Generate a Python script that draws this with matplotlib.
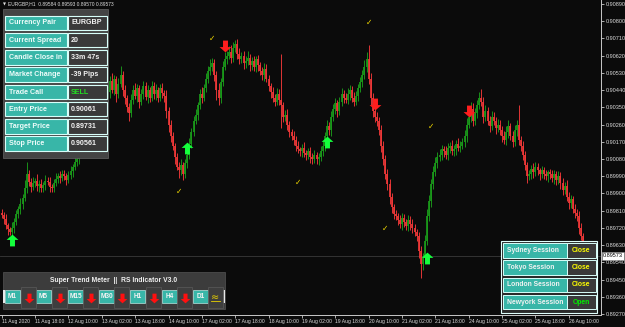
import matplotlib
matplotlib.use("Agg")
import matplotlib.pyplot as plt
import numpy as np
from matplotlib.patches import Rectangle
from matplotlib.path import Path
from matplotlib.transforms import blended_transform_factory

# ---------------- data (price = 0.89 + value / 1e5) ----------------
BASE = 0.89
first_open = 800
closes = [
    787, 765, 735, 712, 700, 720, 750, 790, 820, 845,
    875, 930, 1000, 960, 935, 955, 965, 940, 950, 930,
    945, 965, 960, 935, 930, 955, 975, 990, 980, 1000,
    990, 970, 995, 1015, 1040, 1065, 1080,
    1110, 1150, 1190, 1230, 1260, 1290, 1320, 1300, 1340, 1370, 1390, 1410, 1400, 1420,
    1430, 1490, 1440, 1500, 1420, 1470, 1520, 1440, 1400, 1350,
    1320, 1390, 1440, 1410, 1450, 1380, 1420, 1460, 1405, 1440,
    1400, 1460, 1420, 1440, 1400, 1450, 1425, 1410, 1330, 1260,
    1200, 1150, 1090, 1040, 1020, 1050, 1000, 1060, 1100, 1160,
    1220, 1280, 1310, 1360, 1420, 1400, 1450, 1500, 1540, 1560,
    1580, 1520, 1440, 1400, 1480, 1560, 1600, 1620, 1640, 1610,
    1660, 1680, 1630, 1600, 1620, 1580, 1590, 1610, 1570, 1590,
    1560, 1600, 1570, 1540, 1520, 1550, 1500, 1460, 1430, 1400,
    1380, 1420, 1390, 1360, 1300, 1310, 1260, 1220, 1200, 1180,
    1150, 1130, 1120, 1140, 1110, 1100, 1120, 1090, 1080,
    1100, 1080, 1090, 1120, 1150, 1200, 1250, 1230, 1300, 1340,
    1370, 1330, 1380, 1420, 1400, 1390, 1420, 1440, 1400, 1380,
    1410, 1450, 1480, 1520, 1560, 1600, 1500, 1400, 1330, 1300,
    1280, 1230, 1150, 1080, 1000, 950, 880, 830, 790, 780,
    760, 740, 770, 750, 730, 760, 740, 720, 700, 680,
    600, 530, 560, 650, 780, 860, 950, 1010, 1060, 1090,
    1100, 1130, 1120, 1100, 1140, 1150, 1120, 1130, 1160, 1140,
    1150, 1170, 1200, 1260, 1300, 1340, 1280, 1320, 1360, 1400,
    1380, 1300, 1330, 1280, 1250, 1300, 1280, 1240, 1260, 1230,
    1200, 1180, 1220, 1250, 1200, 1170, 1230, 1260, 1180, 1150,
    1100, 1050, 990, 1000, 1030, 1010, 1040, 1020, 1000, 1020,
    1000, 990, 1010, 1000, 980, 1000, 970, 990, 955,
    920, 940, 880, 850, 870, 820, 800, 780, 720, 680, 573,
]
wick_hi = [
    20, 15, 25, 10, 15, 30, 20, 25, 15, 30,
    20, 40, 65, 25, 20, 30, 15, 35, 20, 25,
    15, 30, 20, 25, 15, 20, 30, 15, 25, 20,
    25, 15, 20, 30, 15, 25, 20,
    20, 15, 25, 20, 30, 15, 20, 25, 15, 20, 30, 15, 25, 20,
    30, 25, 40, 20, 15, 35, 45, 20, 25, 15,
    20, 30, 25, 35, 20, 15, 25, 30, 20, 25,
    15, 25, 20, 30, 15, 20, 25, 15, 30, 20,
    25, 20, 15, 20, 25, 30, 15, 20, 25, 30,
    20, 25, 30, 20, 25, 35, 20, 30, 25, 40,
    30, 25, 20, 35, 25, 30, 40, 25, 30, 35,
    30, 20, 25, 30, 20, 25, 30, 35, 20, 25,
    30, 20, 25, 15, 20, 30, 25, 20, 15, 25,
    20, 30, 25, 240, 20, 25, 30, 20, 15, 25,
    20, 25, 15, 20, 30, 15, 20, 25, 20,
    25, 15, 20, 30, 25, 20, 35, 25, 30, 25,
    30, 20, 25, 30, 20, 25, 30, 25, 20, 30,
    25, 20, 30, 25, 35, 40, 76, 30, 25, 20,
    25, 20, 30, 25, 20, 30, 25, 20, 15, 25,
    20, 25, 30, 20, 15, 25, 20, 25, 20, 15,
    20, 25, 30, 35, 40, 30, 25, 35, 30, 25,
    30, 25, 20, 30, 25, 20, 30, 25, 20, 30,
    25, 20, 30, 35, 25, 40, 30, 25, 30, 30,
    45, 25, 30, 20, 25, 30, 25, 20, 30, 25,
    20, 25, 30, 35, 20, 25, 30, 25, 100, 20,
    25, 20, 15, 25, 20, 30, 25, 20, 15, 25,
    20, 25, 15, 20, 25, 20, 15, 25, 20,
    25, 20, 30, 25, 20, 15, 25, 20, 30, 25, 15,
]
wick_lo = [
    15, 25, 20, 30, 15, 20, 25, 15, 20, 25,
    25, 15, 30, 20, 25, 15, 20, 25, 30, 20,
    20, 25, 15, 30, 20, 25, 15, 20, 25, 15,
    20, 25, 15, 20, 30, 15, 20,
    25, 20, 15, 25, 20, 15, 25, 20, 30, 15, 20, 25, 15, 20,
    20, 30, 15, 25, 40, 20, 15, 30, 35, 25,
    40, 20, 25, 15, 30, 35, 20, 25, 15, 30,
    20, 15, 25, 30, 20, 15, 25, 30, 35, 40,
    30, 25, 35, 20, 40, 25, 30, 20, 25, 20,
    25, 20, 15, 25, 20, 30, 15, 20, 25, 20,
    20, 30, 50, 40, 25, 20, 15, 25, 20, 30,
    25, 20, 30, 25, 20, 30, 25, 20, 30, 25,
    20, 25, 30, 20, 25, 30, 20, 25, 30, 20,
    25, 20, 30, 120, 25, 20, 30, 25, 20, 25,
    30, 20, 25, 30, 20, 25, 20, 30, 25,
    20, 25, 30, 20, 25, 30, 20, 25, 30, 20,
    25, 30, 20, 25, 30, 20, 25, 30, 20, 25,
    20, 25, 20, 25, 20, 25, 30, 40, 30, 25,
    30, 25, 35, 30, 25, 30, 35, 30, 25, 20,
    25, 20, 30, 25, 20, 25, 30, 25, 20, 30,
    40, 70, 30, 25, 20, 25, 30, 25, 20, 25,
    20, 25, 30, 20, 25, 30, 20, 25, 30, 20,
    25, 20, 25, 30, 20, 25, 30, 20, 25, 20,
    25, 30, 20, 25, 30, 20, 25, 30, 20, 25,
    30, 20, 25, 30, 20, 25, 20, 30, 25, 30,
    25, 30, 35, 20, 25, 30, 20, 25, 30, 20,
    25, 20, 30, 25, 20, 30, 25, 20, 30,
    30, 25, 20, 30, 25, 20, 30, 25, 30, 25, 20,
]
current_price = 0.89573

price_ticks = [0.89270, 0.89360, 0.89450, 0.89540, 0.89630, 0.89720, 0.89810,
               0.89900, 0.89990, 0.90080, 0.90170, 0.90260, 0.90350, 0.90440,
               0.90530, 0.90620, 0.90710, 0.90800, 0.90890]
time_tick_bars = [0, 16, 32, 48, 64, 80, 96, 112, 128, 144, 160, 176, 192, 208,
                  224, 240, 256, 272]
time_labels = ["11 Aug 2020", "11 Aug 18:00", "12 Aug 10:00", "13 Aug 02:00",
               "13 Aug 18:00", "14 Aug 10:00", "17 Aug 02:00", "17 Aug 18:00",
               "18 Aug 10:00", "19 Aug 02:00", "19 Aug 18:00", "20 Aug 10:00",
               "21 Aug 02:00", "21 Aug 18:00", "24 Aug 10:00", "25 Aug 02:00",
               "25 Aug 18:00", "26 Aug 10:00"]

up_arrow_bars = [5, 89, 156, 204]
up_arrow_vals = [657, 1137, 1169, 563]
down_arrow_bars = [107, 179, 224]
down_arrow_vals = [1670, 1367, 1331]
check_bars = [101, 176, 85, 142, 206, 184]
check_vals = [1712, 1796, 908, 960, 1252, 719]

info_labels = ["Currency Pair", "Current Spread", "Candle Close in", "Market Change",
               "Trade Call", "Entry Price", "Target Price", "Stop Price"]
info_values = ["EURGBP", "20", "33m 47s", "-39 Pips", "SELL", "0.90061",
               "0.89731", "0.90561"]
timeframes = ["M1", "M5", "M15", "M30", "H1", "H4", "D1"]
sessions = ["Sydney Session", "Tokyo Session", "London Session", "Newyork Session"]
session_status = ["Close", "Close", "Close", "Open"]

# ---------------- derived arrays ----------------
c = BASE + np.array(closes) / 1e5
o = np.concatenate([[BASE + first_open / 1e5], c[:-1]])
h = np.maximum(o, c) + np.array(wick_hi) / 1e5
l = np.minimum(o, c) - np.array(wick_lo) / 1e5
x = np.arange(len(c))

BG = "#0b0b0b"
GREEN = "#1a9a1a"
RED = "#f03838"
TEAL = "#38b6a8"
DARK = "#3a3a3a"
EDGE = "#d8fffa"
AX = "#c8c8c8"
FONT = "Liberation Sans"

W, H = 625, 327
fig = plt.figure(figsize=(W / 100, H / 100), dpi=100, facecolor=BG)
ax = fig.add_axes([0, 12 / H, 601 / W, 315 / H], facecolor=BG)

# pixel mapping: bar i at x = 1.7 + 2.085 i ; price pixel scale 17.22 px / 0.0009
ax.set_xlim(-1.7 / 2.085, (601 - 1.7) / 2.085)
ax.set_ylim(0.90890 - 311 / 17.22 * 0.0009, 0.90890 + 4 / 17.22 * 0.0009)

ax.axhline(current_price, color="#3a3a3a", lw=0.6, zorder=1)

cols = np.where(c >= o, GREEN, RED)
ax.vlines(x, l, h, colors=cols, lw=0.65, zorder=2)
body_lo = np.minimum(o, c)
body_hi = np.maximum(o, c)
body_hi = np.where(body_hi - body_lo < 0.00003, body_lo + 0.00003, body_hi)
ax.vlines(x, body_lo, body_hi, colors=cols, lw=1.25, zorder=3)

# arrow markers
up_path = Path([(0, 1), (-1, 0.1), (-0.42, 0.1), (-0.42, -1), (0.42, -1),
                (0.42, 0.1), (1, 0.1), (0, 1)],
               [Path.MOVETO] + [Path.LINETO] * 6 + [Path.CLOSEPOLY])
down_path = Path([(px, -py) for px, py in up_path.vertices], up_path.codes)

ax.plot(up_arrow_bars, BASE + np.array(up_arrow_vals) / 1e5, ls="none",
        marker=up_path, ms=8.5, color="#14ff3c", mec="none", zorder=5)
ax.plot(down_arrow_bars, BASE + np.array(down_arrow_vals) / 1e5, ls="none",
        marker=down_path, ms=8.5, color="#ff1e1e", mec="none", zorder=5)
for b, v in zip(check_bars, check_vals):
    ax.text(b, BASE + v / 1e5, "\u2713", color="#f0d800", fontsize=5.5,
            ha="center", va="center", family="DejaVu Sans", zorder=5)

# axes styling
for s in ["top", "left"]:
    ax.spines[s].set_visible(False)
for s in ["bottom", "right"]:
    ax.spines[s].set_color(AX)
    ax.spines[s].set_linewidth(0.7)
ax.yaxis.tick_right()
ax.set_yticks(price_ticks)
ax.set_yticklabels([f"{p:.5f}" for p in price_ticks])
ax.tick_params(axis="y", colors=AX, length=2, width=0.6, pad=1.5, labelsize=4.0,
               labelcolor="#dcdcdc")
ax.set_xticks(time_tick_bars)
ax.set_xticklabels(time_labels)
ax.tick_params(axis="x", colors=AX, length=2, width=0.6, pad=1.2, labelsize=3.6,
               labelcolor="#dcdcdc")
for lbl in ax.get_xticklabels() + ax.get_yticklabels():
    lbl.set_family(FONT)
for lbl in ax.get_xticklabels():
    lbl.set_ha("left")

tr = blended_transform_factory(ax.transAxes, ax.transData)
ax.text(1.003, current_price, f"{current_price:.5f}", transform=tr, fontsize=4.0,
        family=FONT, color="black", va="center", ha="left", zorder=6,
        bbox=dict(boxstyle="square,pad=0.2", fc="white", ec="#888", lw=0.4))

# ---------------- overlay panels (pixel layout) ----------------
ov = fig.add_axes([0, 0, 1, 1], facecolor="none")
ov.set_xlim(0, W)
ov.set_ylim(H, 0)
ov.axis("off")


def rect(x0, y0, w, hh, fc, ec="none", lw=0.0, z=1):
    ov.add_patch(Rectangle((x0, y0), w, hh, fc=fc, ec=ec, lw=lw, zorder=z))


ov.text(2.5, 4, "\u25BC", fontsize=2.8, color="#e0e0e0", va="center", ha="left",
        family="DejaVu Sans")
ov.text(8, 4, "EURGBP,H1  0.89584 0.89593 0.89570 0.89573", fontsize=3.5,
        color="#e0e0e0", va="center", ha="left", family=FONT)

# info panel
rect(3, 9, 105, 149, "#444444", "#666666", 0.5)
for k, (lab, val) in enumerate(zip(info_labels, info_values)):
    y0 = 15.5 + 17.25 * k
    rect(4.5, y0, 62.5, 14.5, TEAL, EDGE, 0.8, z=2)
    rect(67.5, y0, 39.5, 14.5, DARK, EDGE, 0.8, z=2)
    ov.text(9, y0 + 7.5, lab, fontsize=5.1, color="#eefcfa", weight="bold",
            family=FONT, va="center", ha="left", zorder=3)
    vc = "#22dd22" if val == "SELL" else "#f2f2f2"
    ov.text(71, y0 + 7.5, val, fontsize=5.1, color=vc, weight="bold",
            family=FONT, va="center", ha="left", zorder=3)

# super trend meter panel
rect(3, 272, 222, 37, "#3c3c3c", "#555555", 0.5)
ov.text(114, 281, "Super Trend Meter  ||  RS Indicator V3.0", fontsize=4.9,
        color="#f0f0f0", weight="bold", family=FONT, ha="center", va="center", zorder=3)
rect(3, 290, 1.8, 13, "#e8e8e8", z=2)
rect(223, 290, 1.8, 13, "#e8e8e8", z=2)
tf_x = [5, 36, 68, 99, 130, 162, 193]
dk_x = [21, 52, 83, 114, 146, 177, 208]
for tx, name in zip(tf_x, timeframes):
    rect(tx, 290, 15, 13, TEAL, EDGE, 0.4, z=2)
    ov.text(tx + 7.5, 296.7, name, fontsize=4.7, color="#f4f4f4", weight="bold",
            family=FONT, ha="center", va="center", zorder=3)
for j, dx in enumerate(dk_x):
    rect(dx, 287, 15, 21, "#3e3e3e", "#5a5a5a", 0.5, z=2)
    if j < len(dk_x) - 1:
        ov.plot([dx + 7.5], [297.5], marker=down_path, ms=7, color="#ff1010",
                mec="none", ls="none", zorder=4)
    else:
        ov.text(dx + 7.5, 297, "\u2248", fontsize=7, color="#e8d000",
                family="DejaVu Sans", ha="center", va="center", zorder=4)
        ov.plot([dx + 3, dx + 12], [300.5, 300.5], color="#e8d000", lw=0.6, zorder=4)

# sessions panel
rect(501, 241, 96, 72, "#2a2a2a", "#e0fffc", 0.8)
for k, (sname, st) in enumerate(zip(sessions, session_status)):
    y0 = 243 + 17.3 * k
    rect(502.5, y0, 64.5, 14.5, TEAL, EDGE, 0.7, z=2)
    rect(567, y0, 28.5, 14.5, DARK, EDGE, 0.7, z=2)
    ov.text(507, y0 + 7.4, sname, fontsize=4.9, color="#f2f2f2", weight="bold",
            family=FONT, ha="left", va="center", zorder=3)
    sc = "#ffff00" if st == "Close" else "#00ee00"
    ov.text(581.3, y0 + 7.4, st, fontsize=4.9, color=sc, weight="bold",
            family=FONT, ha="center", va="center", zorder=3)

fig.savefig("out.png", dpi=100, facecolor=BG)
